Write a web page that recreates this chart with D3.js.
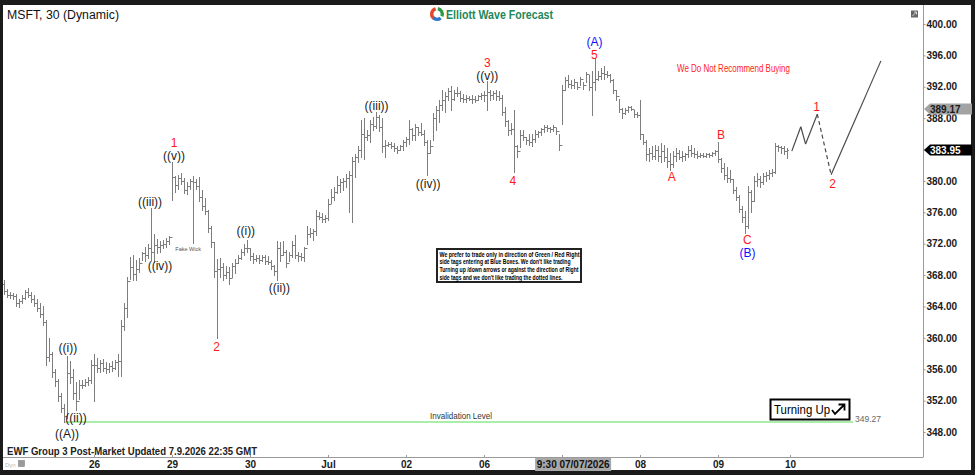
<!DOCTYPE html>
<html>
<head>
<meta charset="utf-8">
<script src="https://cdn.jsdelivr.net/npm/d3@7/dist/d3.min.js"></script>
<style>
body { margin: 0; background: #fff; }
svg { display: block; font-family: "Liberation Sans", Arial, sans-serif; }
</style>
</head>
<body>
<div id="chart"></div>
<script>
let width = 975;
let height = 475;

// 30 minute bars per session: [high, low, close]; open is the previous close
const firstOpen = 366.8;

const jun25 = [
    [367.4, 365.6, 366.0], [366.2, 365.2, 365.5], [365.8, 365.1, 365.4], [365.7, 365.0, 365.3],
    [365.6, 364.0, 364.4], [365.0, 363.9, 364.7], [365.4, 364.4, 365.1], [366.1, 364.9, 365.8],
    [366.3, 365.2, 365.5], [365.9, 364.6, 365.0], [365.5, 364.1, 364.5], [365.0, 363.4, 363.8],
    [364.5, 362.6, 363.0], [364.0, 361.6, 362.0], [362.3, 356.6, 357.5], [360.0, 357.0, 358.0],
    [358.2, 355.0, 355.6], [356.0, 353.8, 354.5], [354.8, 352.0, 352.6], [353.0, 350.6, 351.0],
    [351.6, 349.27, 350.0], [357.7, 349.8, 355.5], [357.0, 354.2, 355.0], [356.0, 352.2, 353.0],
    [354.4, 350.8, 352.0], [354.6, 352.2, 354.0], [354.6, 353.6, 354.0], [354.8, 353.9, 354.4],
    [355.0, 354.0, 354.6], [357.2, 354.2, 356.6]
];
const jun26 = [
    [357.9, 352.0, 356.5], [357.4, 355.6, 356.2], [357.2, 355.6, 356.8], [357.3, 355.8, 356.2],
    [356.9, 355.5, 356.0], [356.8, 355.6, 356.4], [357.0, 355.8, 356.1], [357.2, 356.0, 356.9],
    [357.9, 355.2, 357.0], [362.3, 355.2, 361.5], [364.4, 361.0, 363.8], [367.8, 362.7, 367.2],
    [370.3, 367.5, 369.0], [370.6, 367.4, 368.2], [369.9, 367.4, 368.8], [370.2, 368.4, 369.6],
    [371.0, 369.9, 370.8], [371.6, 369.8, 370.5], [372.0, 370.2, 371.4], [376.5, 369.9, 371.0],
    [373.2, 369.7, 371.8], [372.6, 370.8, 371.6], [372.3, 371.0, 371.8], [372.5, 371.4, 372.0],
    [372.7, 371.6, 372.4], [373.0, 372.0, 372.8]
];
const jun29 = [
    [382.4, 377.6, 380.5], [380.6, 378.6, 379.5], [380.8, 379.0, 380.4], [381.0, 379.6, 380.0],
    [380.4, 378.5, 378.9], [379.8, 378.3, 379.4], [380.3, 379.0, 380.0], [380.6, 372.1, 379.8],
    [380.2, 379.0, 379.4], [380.5, 377.4, 378.0], [378.8, 376.3, 376.8], [377.8, 375.8, 376.2],
    [376.3, 373.5, 374.0], [374.2, 371.6, 372.2], [372.2, 367.8, 368.5], [370.1, 360.0, 368.8],
    [370.2, 367.8, 369.0], [369.6, 367.4, 368.0], [369.1, 367.6, 368.4], [369.0, 366.9, 367.6],
    [369.5, 367.7, 369.2], [370.0, 368.3, 369.6], [370.6, 369.5, 370.2], [371.3, 370.0, 370.9],
    [371.9, 370.6, 371.5], [372.5, 371.0, 371.4]
];
const jun30 = [
    [371.5, 369.9, 370.4], [370.8, 369.6, 370.0], [370.6, 369.8, 370.2], [370.5, 369.6, 369.9],
    [370.6, 369.8, 370.3], [370.5, 369.4, 369.8], [370.4, 369.4, 369.7], [369.9, 368.8, 369.2],
    [369.3, 368.0, 368.5], [372.4, 367.4, 371.5], [372.2, 369.8, 370.6], [372.4, 370.5, 371.0],
    [371.2, 369.0, 369.6], [371.0, 369.8, 370.6], [372.4, 370.3, 371.8], [373.1, 370.2, 370.6],
    [370.9, 369.8, 370.4], [370.8, 369.9, 370.3], [371.6, 369.8, 371.4], [374.2, 372.0, 373.2],
    [374.0, 372.9, 373.4], [373.9, 372.5, 373.6], [376.3, 373.1, 375.5], [376.0, 375.1, 375.4],
    [375.9, 374.8, 375.2], [375.6, 374.8, 375.3]
];
const jul01 = [
    [377.7, 375.0, 377.0], [379.0, 377.2, 378.0], [379.2, 377.6, 378.6], [380.6, 378.4, 379.5],
    [380.2, 378.6, 379.8], [380.4, 378.9, 380.0], [380.9, 379.2, 380.4], [381.3, 376.1, 380.8],
    [383.0, 374.8, 382.6], [383.4, 380.5, 383.0], [384.5, 382.4, 384.0], [387.8, 383.0, 386.0],
    [388.0, 382.8, 385.6], [386.5, 385.2, 385.8], [387.8, 385.0, 387.2], [388.2, 386.5, 387.0],
    [388.8, 386.7, 388.2], [388.4, 386.4, 386.9], [388.0, 383.7, 384.5], [385.2, 383.1, 384.6],
    [385.0, 384.4, 384.7], [385.0, 384.2, 384.4], [384.8, 383.8, 384.2], [384.4, 383.6, 384.0],
    [384.6, 383.9, 384.5], [385.2, 384.0, 385.0]
];
const jul02 = [
    [385.6, 384.5, 385.4], [387.8, 384.7, 386.6], [386.8, 385.2, 385.8], [387.3, 385.2, 386.9],
    [386.9, 385.8, 386.2], [387.4, 385.8, 386.0], [386.5, 384.6, 385.0], [385.2, 380.8, 383.6],
    [385.2, 383.5, 384.5], [388.6, 385.2, 388.0], [389.5, 386.5, 389.0], [390.3, 387.5, 389.7],
    [391.6, 389.0, 390.3], [391.3, 388.8, 390.8], [391.9, 390.3, 391.4], [392.1, 389.0, 390.5],
    [391.6, 390.3, 391.2], [392.0, 390.8, 391.2], [391.4, 390.2, 390.6], [391.1, 390.1, 390.4],
    [390.9, 390.1, 390.6], [390.8, 390.3, 390.5], [390.9, 389.9, 390.5], [390.8, 390.1, 390.3],
    [391.0, 390.3, 390.8], [391.2, 390.5, 391.0]
];
const jul06 = [
    [391.4, 390.2, 391.0], [392.7, 389.0, 391.3], [391.6, 390.3, 391.0], [391.4, 390.4, 391.2],
    [391.6, 390.3, 390.8], [391.4, 390.3, 390.6], [391.0, 388.4, 388.8], [389.4, 387.0, 387.6],
    [387.8, 385.8, 386.5], [387.4, 386.0, 386.6], [389.0, 381.2, 384.4], [384.6, 383.1, 383.8],
    [386.5, 384.3, 385.8], [386.5, 385.2, 385.6], [385.6, 384.7, 385.2], [386.0, 384.6, 385.0],
    [386.0, 384.4, 385.4], [386.5, 385.0, 386.0], [386.4, 385.6, 386.2], [386.8, 385.9, 386.6],
    [387.1, 386.2, 386.9], [387.1, 386.3, 386.8], [386.9, 386.2, 386.6], [387.1, 386.3, 386.9],
    [386.8, 386.0, 386.3], [386.0, 384.0, 384.6]
];
const jul07 = [
    [392.2, 387.2, 391.6], [393.2, 391.6, 392.8], [393.5, 392.0, 392.4], [392.9, 391.9, 392.2],
    [393.0, 391.9, 392.6], [392.6, 391.7, 392.0], [393.3, 392.2, 393.0], [392.6, 391.7, 392.2],
    [393.9, 392.6, 393.6], [393.5, 391.6, 392.0], [394.0, 388.4, 392.6], [395.7, 391.6, 393.0],
    [394.0, 392.9, 393.4], [394.4, 393.0, 393.8], [394.7, 393.0, 393.6], [394.0, 393.2, 393.5],
    [393.6, 392.6, 392.9], [393.0, 391.2, 391.6], [391.6, 390.3, 390.8], [390.4, 388.8, 389.2],
    [389.3, 388.0, 388.6], [389.3, 388.5, 389.0], [389.6, 388.8, 389.4], [389.6, 389.0, 389.2],
    [389.0, 388.2, 388.5], [388.8, 388.2, 388.4]
];
const jul08 = [
    [390.3, 385.4, 386.0], [386.0, 384.7, 385.0], [385.2, 382.7, 383.4], [384.2, 382.6, 383.6],
    [384.4, 382.8, 383.2], [384.6, 382.8, 384.0], [384.5, 382.6, 383.2], [384.8, 382.4, 383.8],
    [384.6, 382.5, 383.0], [384.2, 381.8, 382.6], [383.5, 381.4, 382.2], [383.8, 381.8, 383.2],
    [384.2, 382.6, 383.6], [384.0, 382.8, 383.0], [383.8, 382.6, 383.2], [383.6, 382.7, 383.4],
    [384.4, 383.0, 383.9], [384.6, 383.2, 383.6], [384.2, 383.0, 383.4], [383.8, 382.9, 383.2],
    [383.6, 383.0, 383.3], [383.5, 383.0, 383.2], [383.6, 383.0, 383.4], [383.6, 383.1, 383.3],
    [383.7, 383.2, 383.5], [384.0, 383.3, 383.8]
];
const jul09 = [
    [385.0, 382.4, 382.8], [382.9, 381.2, 381.6], [382.3, 380.2, 380.8], [381.8, 379.8, 380.4],
    [381.4, 379.9, 380.2], [380.3, 378.4, 378.8], [379.2, 377.6, 378.0], [378.2, 376.0, 376.4],
    [376.8, 374.8, 375.4], [376.2, 373.4, 374.2], [379.3, 374.0, 378.6], [378.8, 376.0, 377.4],
    [380.6, 377.4, 380.0], [381.0, 379.4, 380.2], [380.6, 379.2, 379.8], [381.0, 379.6, 380.6],
    [381.2, 380.0, 380.8], [381.4, 380.2, 381.0], [381.5, 380.6, 381.2], [384.8, 381.0, 384.4],
    [384.6, 383.8, 384.3], [384.5, 383.6, 384.2], [384.4, 383.4, 383.8], [384.2, 382.9, 383.95]
];

// session tick labels (null = no tick, '' = tick without text)
const sessions = [
    { label: null, bars: jun25 },
    { label: '26', bars: jun26 },
    { label: '29', bars: jun29 },
    { label: '30', bars: jun30 },
    { label: 'Jul', bars: jul01 },
    { label: '02', bars: jul02 },
    { label: '06', bars: jul06 },
    { label: '', bars: jul07 },
    { label: '08', bars: jul08 },
    { label: '09', bars: jul09 }
];
const nextSessionLabel = '10';
const cursorLabel = { at: 189.7, text: '9:30 07/07/2026' };

const yTickValues = [348, 352, 356, 360, 364, 368, 372, 376, 380, 384, 388, 392, 396, 400];
const priceTags = [
    { price: 389.17, fill: '#a3a3a3', color: '#1a1a1a' },
    { price: 383.95, fill: '#000', color: '#fff' }
];
const invalidation = { price: 349.27, from: 20, to: 283 };

// wave counts: [text, bar position, price of label centre, tone]
const waveLabels = [
    ['((A))', 21.0, 347.8, 'wave'],
    ['((i))', 21.3, 358.7, 'wave'],
    ['((ii))', 24.0, 349.8, 'wave'],
    ['((iii))', 48.7, 377.35, 'wave'],
    ['((iv))', 52.0, 369.16, 'wave'],
    ['1', 56.7, 384.9, 'red'],
    ['((v))', 56.7, 383.25, 'wave'],
    ['2', 70.9, 358.9, 'red'],
    ['((i))', 80.6, 373.6, 'wave'],
    ['((ii))', 91.8, 366.4, 'wave'],
    ['((iii))', 124.2, 389.6, 'wave'],
    ['((iv))', 141.4, 379.6, 'wave'],
    ['3', 161.1, 395.05, 'red'],
    ['((v))', 161.1, 393.4, 'wave'],
    ['(A)', 196.8, 397.7, 'blue'],
    ['5', 196.8, 396.05, 'red'],
    ['4', 169.6, 380.0, 'red'],
    ['A', 222.6, 380.5, 'red'],
    ['B', 239.0, 385.85, 'red'],
    ['C', 247.8, 372.45, 'red'],
    ['(B)', 247.8, 370.8, 'blue'],
    ['1', 270.9, 389.5, 'red'],
    ['2', 276.2, 379.6, 'red']
];
const fakeWick = ['Fake Wick', 61.4, 371.3];

// projected path after the last bar
const projAt = [262.6, 265.6, 267.2, 271.1, 275.7, 292.3];
const projPrice = [383.8, 386.9, 384.7, 388.5, 380.8, 395.3];
const projDashed = [false, false, false, true, false];

const noticeLines = [
    'We prefer to trade only in direction of Green / Red Right',
    "side tags entering at Blue Boxes. We don't like trading",
    'Turning up /down arrows or against the direction of Right',
    "side tags and we don't like trading the dotted lines."
];

// ---- build bar list
let bars = [];
let dayTicks = [];
let idx = 0;
let prevClose = firstOpen;
sessions.forEach(s => {
    if (s.label !== null) dayTicks.push({ i: idx, label: s.label });
    s.bars.forEach(b => {
        bars.push({ i: idx, o: prevClose, h: b[0], l: b[1], c: b[2] });
        prevClose = b[2];
        idx++;
    });
});
dayTicks.push({ i: idx, label: nextSessionLabel });

let svg = d3.select('#chart')
    .append('svg')
    .attr('width', width)
    .attr('height', height);

// frame
svg.append('rect').attr('width', width).attr('height', height).attr('fill', '#1b1b1b');
svg.append('rect').attr('x', 3).attr('y', 5).attr('width', 968).attr('height', 465).attr('fill', '#fff');

let xScale = d3.scaleLinear().domain([0, 300]).range([4, 904]);
let yScale = d3.scaleLinear().domain([348, 400]).range([432, 24]);

let plotRight = 923;
let plotBottom = 457;

svg.append('line')
    .attr('x1', plotRight + 0.5).attr('x2', plotRight + 0.5)
    .attr('y1', 5).attr('y2', plotBottom)
    .attr('stroke', '#9a9a9a');
svg.append('line')
    .attr('x1', 3).attr('x2', plotRight + 0.5)
    .attr('y1', plotBottom + 0.5).attr('y2', plotBottom + 0.5)
    .attr('stroke', '#9a9a9a');

// invalidation level
svg.append('line')
    .attr('x1', xScale(invalidation.from)).attr('x2', xScale(invalidation.to))
    .attr('y1', yScale(invalidation.price)).attr('y2', yScale(invalidation.price))
    .attr('stroke', '#8ee88e').attr('stroke-width', 1.5);
svg.append('text')
    .attr('x', xScale(142)).attr('y', yScale(invalidation.price) - 3.5)
    .attr('font-size', 8.5).attr('fill', '#333')
    .attr('textLength', 62).attr('lengthAdjust', 'spacingAndGlyphs')
    .text('Invalidation Level');
svg.append('text')
    .attr('x', xScale(invalidation.to) + 2).attr('y', yScale(invalidation.price))
    .attr('font-size', 8.5).attr('fill', '#666')
    .text(invalidation.price.toFixed(2));

// OHLC bars
let px = d => Math.round(xScale(d.i)) + 0.5;
let py = v => Math.round(yScale(v)) + 0.5;
svg.append('g')
    .attr('stroke', '#7d7d7d')
    .attr('stroke-width', 1)
    .attr('fill', 'none')
    .selectAll('path')
    .data(bars)
    .join('path')
    .attr('d', d => `M${px(d)},${py(d.h) - 0.5}V${py(d.l) + 0.5}` +
        `M${px(d) - 1.5},${py(d.o)}H${px(d)}M${px(d)},${py(d.c)}H${px(d) + 1.5}`);

// projection
let projG = svg.append('g').attr('fill', 'none').attr('stroke', '#4a4a4a').attr('stroke-width', 1.2);
projDashed.forEach((dashed, k) => {
    projG.append('line')
        .attr('x1', xScale(projAt[k])).attr('y1', yScale(projPrice[k]))
        .attr('x2', xScale(projAt[k + 1])).attr('y2', yScale(projPrice[k + 1]))
        .attr('stroke-dasharray', dashed ? '4,3' : null);
});

// wave labels
let toneColor = { wave: '#1a1a1a', red: '#ff1a1a', blue: '#1010ff' };
svg.append('g')
    .attr('font-size', 12)
    .attr('text-anchor', 'middle')
    .selectAll('text')
    .data(waveLabels)
    .join('text')
    .attr('x', d => xScale(d[1]))
    .attr('y', d => yScale(d[2]))
    .attr('dy', '0.36em')
    .attr('fill', d => toneColor[d[3]])
    .text(d => d[0]);
svg.append('text')
    .attr('x', xScale(fakeWick[1])).attr('y', yScale(fakeWick[2]))
    .attr('dy', '0.35em').attr('text-anchor', 'middle')
    .attr('font-size', 5.5).attr('fill', '#555')
    .text(fakeWick[0]);

// axes
let xAxis = d3.axisBottom(xScale)
    .tickValues(dayTicks.map(d => d.i))
    .tickFormat((d, k) => dayTicks[k].label)
    .tickSizeInner(-2).tickSizeOuter(0).tickPadding(4);
let xAxisGroup = svg.append('g')
    .attr('transform', `translate(0,${plotBottom})`)
    .call(xAxis);
xAxisGroup.select('.domain').remove();
xAxisGroup.selectAll('line').attr('stroke', '#999');
xAxisGroup.selectAll('text').attr('font-size', 10).attr('font-weight', 'bold').attr('fill', '#1a1a1a')
    .attr('font-family', '"Liberation Sans", Arial, sans-serif');

let cursorG = svg.append('g').attr('transform', `translate(${xScale(cursorLabel.at)},${plotBottom})`);
cursorG.append('rect').attr('x', -38).attr('y', 1).attr('width', 76).attr('height', 13).attr('fill', '#a8a8a8');
cursorG.append('text').attr('y', 11).attr('text-anchor', 'middle')
    .attr('font-size', 10).attr('font-weight', 'bold').attr('fill', '#111')
    .text(cursorLabel.text);

// tick labels hidden behind a price tag are left blank
let underTag = v => priceTags.some(t => Math.abs(yScale(t.price) - yScale(v)) < 5);
let yAxis = d3.axisRight(yScale)
    .tickValues(yTickValues)
    .tickFormat(v => underTag(v) ? '' : d3.format('.2f')(v))
    .tickSizeInner(2).tickSizeOuter(0).tickPadding(1);
let yAxisGroup = svg.append('g')
    .attr('transform', `translate(${plotRight + 0.5},0)`)
    .call(yAxis);
yAxisGroup.select('.domain').remove();
yAxisGroup.selectAll('line').attr('stroke', '#999');
yAxisGroup.selectAll('text').attr('font-size', 10).attr('font-weight', 'bold').attr('fill', '#1a1a1a')
    .attr('font-family', '"Liberation Sans", Arial, sans-serif');

// price tags on the right scale
let tagG = svg.append('g').selectAll('g').data(priceTags).join('g')
    .attr('transform', d => `translate(${plotRight},${yScale(d.price)})`);
tagG.append('path')
    .attr('d', 'M1,0L7,-5.5H49V5.5H7Z')
    .attr('fill', d => d.fill);
tagG.append('text')
    .attr('x', 7).attr('dy', '0.36em')
    .attr('font-size', 10).attr('font-weight', 'bold')
    .attr('fill', d => d.color)
    .text(d => d.price.toFixed(2));

// header texts
svg.append('text').attr('x', 7).attr('y', 19)
    .attr('font-size', 12).attr('fill', '#111')
    .attr('textLength', 112).attr('lengthAdjust', 'spacingAndGlyphs')
    .text('MSFT, 30 (Dynamic)');

let logo = svg.append('g').attr('transform', 'translate(437,14)');
let arc = d3.arc().innerRadius(3.6).outerRadius(7);
[['#e5492b', -2.7, -0.25], ['#2e9b4b', 0.15, 2.0], ['#2b78c9', 2.4, 3.9]].forEach(a => {
    logo.append('path').attr('d', arc({ startAngle: a[1], endAngle: a[2] })).attr('fill', a[0]);
});
svg.append('text').attr('x', 446).attr('y', 19)
    .attr('font-size', 12.5).attr('font-weight', 'bold').attr('fill', '#22875a')
    .attr('textLength', 107).attr('lengthAdjust', 'spacingAndGlyphs')
    .text('Elliott Wave Forecast');

svg.append('rect').attr('x', 911).attr('y', 10.5).attr('width', 7).attr('height', 7).attr('fill', '#666');
svg.append('path').attr('d', 'M912.5,16L916.5,12M914,12H916.5V14.5').attr('stroke', '#ddd').attr('fill', 'none').attr('stroke-width', 0.9);

svg.append('text').attr('x', 677).attr('y', 71.5)
    .attr('font-size', 11).attr('fill', '#ff2222')
    .attr('textLength', 113).attr('lengthAdjust', 'spacingAndGlyphs')
    .text('We Do Not Recommend Buying');

// notice box
let noticeWidths = [140, 131, 139, 123];
let notice = svg.append('g').attr('transform', 'translate(437,249)');
notice.append('rect').attr('width', 144).attr('height', 33)
    .attr('fill', '#fff').attr('stroke', '#222').attr('stroke-width', 2);
notice.selectAll('text').data(noticeLines).join('text')
    .attr('x', 2.5).attr('y', (d, k) => 7.6 + k * 7.7)
    .attr('font-size', 6.4).attr('font-weight', 'bold').attr('fill', '#000')
    .attr('textLength', (d, k) => noticeWidths[k]).attr('lengthAdjust', 'spacingAndGlyphs')
    .text(d => d);

// turning up box
let turn = svg.append('g').attr('transform', 'translate(770,399)');
turn.append('rect').attr('x', 0.5).attr('y', 0.5).attr('width', 79).attr('height', 20)
    .attr('fill', '#fff').attr('stroke', '#000').attr('stroke-width', 2);
turn.append('text').attr('x', 4).attr('y', 15)
    .attr('font-size', 13).attr('fill', '#000')
    .attr('textLength', 56).attr('lengthAdjust', 'spacingAndGlyphs')
    .text('Turning Up');
turn.append('path').attr('d', 'M62,11L65,15L74,6M68.5,5.5H74.5V11.5')
    .attr('fill', 'none').attr('stroke', '#000').attr('stroke-width', 1.8);

// footer
svg.append('text').attr('x', 7).attr('y', 455)
    .attr('font-size', 10.5).attr('font-weight', 'bold').attr('fill', '#222')
    .attr('textLength', 250).attr('lengthAdjust', 'spacingAndGlyphs')
    .text('EWF Group 3 Post-Market Updated 7.9.2026 22:35 GMT');
svg.append('text').attr('x', 5).attr('y', 467)
    .attr('font-size', 6).attr('fill', '#bbb').text('Dyn');
svg.append('rect').attr('x', 18.5).attr('y', 460.5).attr('width', 6).attr('height', 6)
    .attr('fill', '#9a9a9a').attr('stroke', '#777').attr('stroke-width', 0.5);
</script>
</body>
</html>
